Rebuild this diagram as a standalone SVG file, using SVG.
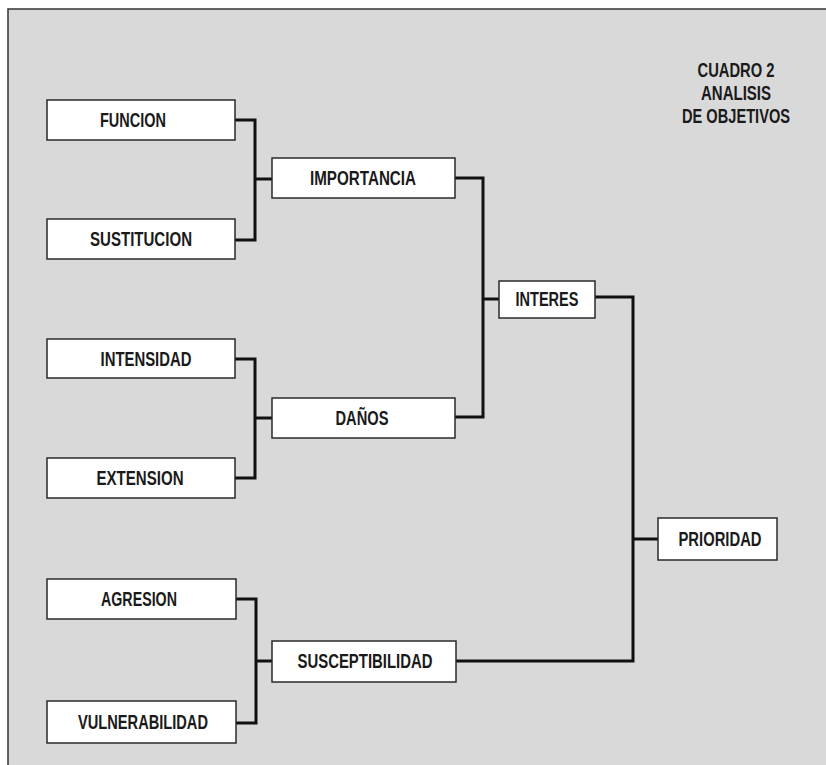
<svg xmlns="http://www.w3.org/2000/svg" width="826" height="765" viewBox="0 0 826 765">
<style>
.box{fill:#ffffff;stroke:#2a2a2a;stroke-width:1.5}
.lbl{font-family:"Liberation Sans",Arial,sans-serif;font-weight:bold;font-size:20px;fill:#1a1a1a;text-anchor:middle}
.ttl{font-family:"Liberation Sans",Arial,sans-serif;font-weight:bold;font-size:20px;fill:#1a1a1a;text-anchor:middle}
.con{fill:none;stroke:#111111;stroke-width:3;stroke-linejoin:miter}
</style>
<rect x="0" y="0" width="826" height="765" fill="#ffffff"/>
<rect x="8" y="9" width="830" height="770" fill="#d9d9d9" stroke="#333333" stroke-width="1.5"/>
<g id="title">
<text class="ttl" x="736" y="77" textLength="77" lengthAdjust="spacingAndGlyphs">CUADRO 2</text>
<text class="ttl" x="736" y="100" textLength="70" lengthAdjust="spacingAndGlyphs">ANALISIS</text>
<text class="ttl" x="736" y="123" textLength="108" lengthAdjust="spacingAndGlyphs">DE OBJETIVOS</text>
</g>
<g id="connectors">
<path class="con" d="M235,120 H255 V240 H235"/>
<path class="con" d="M255,179 H272"/>
<path class="con" d="M235,359 H255 V478 H235"/>
<path class="con" d="M255,418 H272"/>
<path class="con" d="M236,599 H256 V723 H236"/>
<path class="con" d="M256,661 H272"/>
<path class="con" d="M455,178 H483 V417 H455"/>
<path class="con" d="M483,299 H499"/>
<path class="con" d="M595,297 H633 V661 H456"/>
<path class="con" d="M633,539 H658"/>
</g>
<g id="funcion"><rect class="box" x="47" y="100" width="188" height="40"/><text class="lbl" x="133" y="127" textLength="66" lengthAdjust="spacingAndGlyphs">FUNCION</text></g>
<g id="sustitucion"><rect class="box" x="47" y="219" width="188" height="40"/><text class="lbl" x="141" y="246" textLength="102" lengthAdjust="spacingAndGlyphs">SUSTITUCION</text></g>
<g id="importancia"><rect class="box" x="272" y="158" width="183" height="40"/><text class="lbl" x="363" y="185" textLength="106" lengthAdjust="spacingAndGlyphs">IMPORTANCIA</text></g>
<g id="intensidad"><rect class="box" x="47" y="339" width="188" height="39"/><text class="lbl" x="146" y="366" textLength="91" lengthAdjust="spacingAndGlyphs">INTENSIDAD</text></g>
<g id="extension"><rect class="box" x="47" y="458" width="188" height="40"/><text class="lbl" x="140" y="485" textLength="87" lengthAdjust="spacingAndGlyphs">EXTENSION</text></g>
<g id="danos"><rect class="box" x="272" y="398" width="183" height="40"/><text class="lbl" x="362" y="425" textLength="53" lengthAdjust="spacingAndGlyphs">DAÑOS</text></g>
<g id="interes"><rect class="box" x="499" y="281" width="96" height="37"/><text class="lbl" x="547" y="306" textLength="63" lengthAdjust="spacingAndGlyphs">INTERES</text></g>
<g id="prioridad"><rect class="box" x="658" y="518" width="119" height="42"/><text class="lbl" x="720" y="546" textLength="83" lengthAdjust="spacingAndGlyphs">PRIORIDAD</text></g>
<g id="agresion"><rect class="box" x="47" y="579" width="189" height="40"/><text class="lbl" x="139" y="606" textLength="76" lengthAdjust="spacingAndGlyphs">AGRESION</text></g>
<g id="vulnerabilidad"><rect class="box" x="47" y="701" width="189" height="42"/><text class="lbl" x="143" y="729" textLength="130" lengthAdjust="spacingAndGlyphs">VULNERABILIDAD</text></g>
<g id="susceptibilidad"><rect class="box" x="272" y="641" width="184" height="41"/><text class="lbl" x="365" y="668" textLength="135" lengthAdjust="spacingAndGlyphs">SUSCEPTIBILIDAD</text></g>
</svg>
